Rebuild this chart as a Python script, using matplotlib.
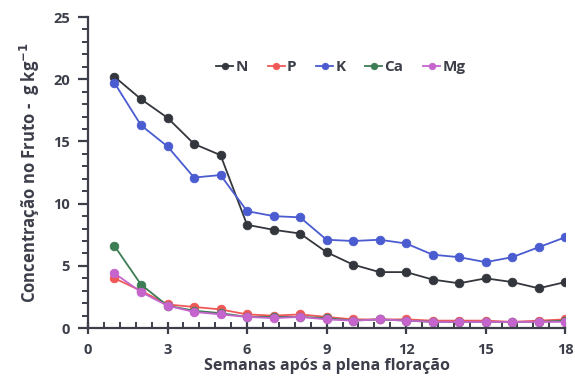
import matplotlib
matplotlib.use("Agg")
import matplotlib.pyplot as plt
from matplotlib.ticker import MultipleLocator

INK = "#3c3f4a"

WEEKS = list(range(1, 19))
N = [20.2, 18.4, 16.9, 14.8, 13.9, 8.3, 7.9, 7.6, 6.1, 5.1, 4.5, 4.5, 3.9, 3.6, 4.0, 3.7, 3.2, 3.7]
P = [4.0, 3.0, 1.9, 1.7, 1.5, 1.1, 1.0, 1.1, 0.9, 0.7, 0.7, 0.7, 0.6, 0.6, 0.6, 0.5, 0.6, 0.7]
K = [19.7, 16.3, 14.6, 12.1, 12.3, 9.4, 9.0, 8.9, 7.1, 7.0, 7.1, 6.8, 5.9, 5.7, 5.3, 5.7, 6.5, 7.3]
CA = [6.6, 3.5, 1.8, 1.4, 1.2, 0.9, 0.9, 0.9, 0.8, 0.6, 0.7, 0.6, 0.5, 0.5, 0.5, 0.5, 0.5, 0.6]
MG = [4.4, 2.9, 1.8, 1.3, 1.1, 0.9, 0.8, 0.9, 0.7, 0.6, 0.7, 0.6, 0.5, 0.5, 0.5, 0.5, 0.5, 0.5]

SERIES = [("N", N, "#33363c"), ("P", P, "#f05858"), ("K", K, "#4a5cd0"),
          ("Ca", CA, "#3d7d55"), ("Mg", MG, "#c564cc")]

plt.rcParams.update({"font.family": ["Open Sans", "DejaVu Sans"], "font.weight": "bold"})

fig = plt.figure(figsize=(5.75, 3.78), dpi=100)
ax = fig.add_axes([0.153, 0.132, 0.830, 0.823])

for name, vals, col in SERIES:
    ax.plot(WEEKS, vals, color=col, lw=1.3, marker="o", ms=6.2,
            markeredgewidth=0.6, label=name)

ax.set_xlim(0, 18)
ax.set_ylim(0, 25)
ax.xaxis.set_major_locator(MultipleLocator(3))
ax.xaxis.set_minor_locator(MultipleLocator(0.6))
ax.yaxis.set_major_locator(MultipleLocator(5))
ax.yaxis.set_minor_locator(MultipleLocator(1))

for s in ("top", "right"):
    ax.spines[s].set_visible(False)
for s in ("left", "bottom"):
    ax.spines[s].set_color(INK)
    ax.spines[s].set_linewidth(1.6)

ax.tick_params(axis="x", which="major", direction="inout", length=9, width=1.6,
               color=INK, labelcolor=INK, labelsize=10.5, pad=6)
ax.tick_params(axis="x", which="minor", direction="in", length=4, width=1.4, color=INK)
ax.tick_params(axis="y", which="major", direction="out", length=7, width=1.6,
               color=INK, labelcolor=INK, labelsize=10.5, pad=6)
ax.tick_params(axis="y", which="minor", direction="out", length=4, width=1.4, color=INK)
for lab in ax.get_xticklabels() + ax.get_yticklabels():
    lab.set_fontweight("bold")

ax.set_xlabel("Semanas após a plena floração", fontsize=11.5, color=INK,
              fontweight="bold", labelpad=1)
ax.set_ylabel("Concentração no Fruto -  g kg$^{\\mathbf{-1}}$", fontsize=12,
              color=INK, fontweight="bold", labelpad=8)

leg = ax.legend(loc="upper center", bbox_to_anchor=(0.53, 0.905), ncol=5,
                frameon=False, handlelength=1.1, handletextpad=0.15,
                columnspacing=1.3, fontsize=11, markerscale=0.75)
for t in leg.get_texts():
    t.set_color(INK)
    t.set_fontweight("bold")

fig.savefig("out.png", dpi=100, facecolor="white")
